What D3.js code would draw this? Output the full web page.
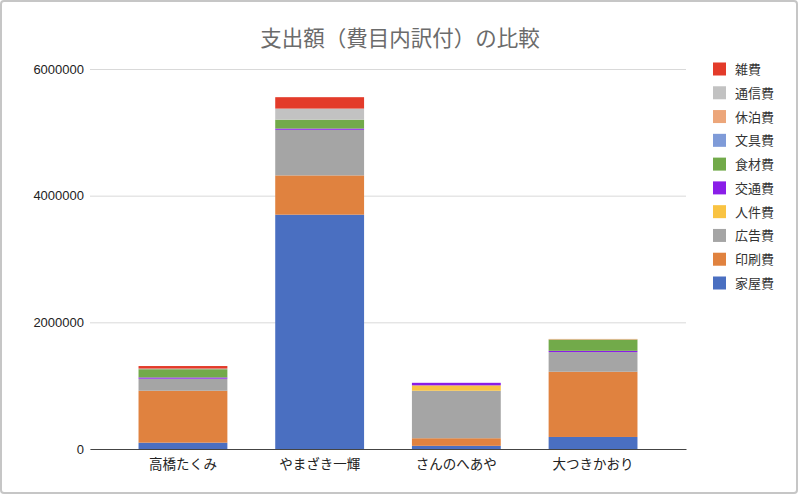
<!DOCTYPE html>
<html>
<head>
<meta charset="utf-8">
<script src="https://cdn.jsdelivr.net/npm/d3@7"></script>
<style>
  html, body { margin: 0; padding: 0; background: #fff; }
  svg { display: block; font-family: "Noto Sans CJK JP", "Noto Sans", sans-serif; }
</style>
</head>
<body>
<div id="chart"></div>
<script>
// data
const people = ["高橋たくみ", "やまざき一輝", "さんのへあや", "大つきかおり"];
// stack order, bottom to top
const costKeys = ["家屋費", "印刷費", "広告費", "人件費", "交通費", "食材費", "文具費", "休泊費", "通信費", "雑費"];
const costColors = ["#4a6fc1", "#e0823f", "#a5a5a5", "#f9c342", "#8a1ee8", "#72aa4a", "#7f9bd8", "#eca67a", "#c2c2c2", "#e33b2a"];

const kaoku   = [100000, 3700000,  50000,  190000];
const insatsu = [820000,  620000, 120000, 1030000];
const koukoku = [190000,  720000, 750000,  310000];
const jinken  = [     0,       0,  85000,       0];
const koutsuu = [ 20000,   20000,  40000,   20000];
const shokuzai= [130000,  140000,      0,  178000];
const bungu   = [     0,       0,      0,       0];
const kyuuhaku= [     0,       0,      0,   10000];
const tsuushin= [ 10000,  175000,      0,       0];
const zappi   = [ 40000,  180000,      0,       0];

const yTicks = [0, 2000000, 4000000, 6000000];
const chartTitle = "支出額（費目内訳付）の比較";

const drawChart = () => {
  const width = 800;
  const height = 496;
  const plot = {left: 90, right: 686, top: 69, bottom: 449};

  const series = [kaoku, insatsu, koukoku, jinken, koutsuu, shokuzai, bungu, kyuuhaku, tsuushin, zappi];
  const rows = people.map((p, i) => {
    const row = {name: p};
    costKeys.forEach((k, j) => { row[k] = series[j][i]; });
    return row;
  });

  const svg = d3.select("#chart")
    .append("svg")
      .attr("width", width)
      .attr("height", height);

  // frame
  svg.append("rect")
    .attr("x", 1).attr("y", 1)
    .attr("width", width - 4).attr("height", height - 4)
    .attr("rx", 3)
    .attr("fill", "#fff")
    .attr("stroke", "#c6c6c6")
    .attr("stroke-width", 2);

  // title
  svg.append("text")
    .text(chartTitle)
    .attr("x", 400)
    .attr("y", 46)
    .attr("text-anchor", "middle")
    .attr("font-size", 21.5)
    .attr("fill", "#6b6b6b");

  // scales
  const xScale = d3.scaleBand()
    .domain(people)
    .range([plot.left, plot.right])
    .paddingInner(0.35)
    .paddingOuter(0.355);

  const yScale = d3.scaleLinear()
    .domain([0, 6000000])
    .range([plot.bottom, plot.top]);

  // grid + y labels
  const leftAxis = d3.axisLeft(yScale)
    .tickValues(yTicks)
    .tickFormat(d3.format("d"))
    .tickSize(-(plot.right - plot.left))
    .tickPadding(6);
  const yAxisG = svg.append("g")
    .attr("transform", `translate(${plot.left}, 0)`)
    .call(leftAxis);
  yAxisG.select(".domain").remove();
  yAxisG.selectAll(".tick line").attr("stroke", "#d9d9d9");
  yAxisG.selectAll(".tick text")
    .attr("font-size", 13)
    .attr("fill", "#222")
    .attr("font-family", "Liberation Sans, Arial, sans-serif");

  // stacked bars
  const stack = d3.stack().keys(costKeys);
  const stacked = stack(rows);
  const color = d3.scaleOrdinal().domain(costKeys).range(costColors);

  svg.append("g")
    .selectAll("g")
    .data(stacked)
    .join("g")
      .attr("fill", d => color(d.key))
    .selectAll("rect")
    .data(d => d)
    .join("rect")
      .attr("x", d => xScale(d.data.name))
      .attr("y", d => yScale(d[1]))
      .attr("width", xScale.bandwidth())
      .attr("height", d => yScale(d[0]) - yScale(d[1]));

  // baseline + x labels
  const bottomAxis = d3.axisBottom(xScale)
    .tickSize(0)
    .tickPadding(10);
  const xAxisG = svg.append("g")
    .attr("transform", `translate(0, ${plot.bottom})`)
    .call(bottomAxis);
  xAxisG.select(".domain").attr("stroke", "#444");
  xAxisG.selectAll(".tick text")
    .attr("font-size", 13.5)
    .attr("fill", "#222")
    .attr("font-family", "Noto Sans CJK JP, sans-serif");

  // legend, top to bottom in reverse stack order
  const legendKeys = costKeys.slice().reverse();
  const legendY = d3.scalePoint()
    .domain(legendKeys)
    .range([69, 283]);
  const legend = svg.append("g")
    .selectAll("g")
    .data(legendKeys)
    .join("g")
      .attr("transform", d => `translate(713, ${legendY(d)})`);
  legend.append("rect")
    .attr("x", 0).attr("y", -6.5)
    .attr("width", 13).attr("height", 13)
    .attr("fill", d => color(d));
  legend.append("text")
    .text(d => d)
    .attr("x", 22)
    .attr("y", 5)
    .attr("font-size", 13)
    .attr("fill", "#333");
};

drawChart();
</script>
</body>
</html>
